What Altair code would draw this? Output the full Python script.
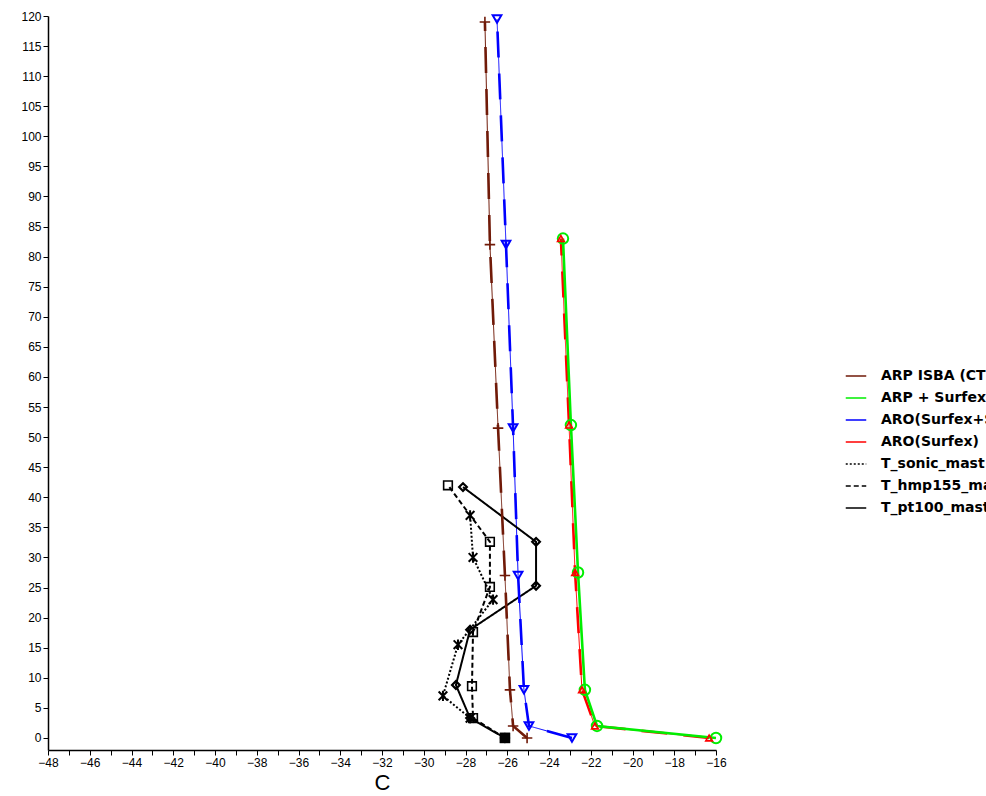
import altair as alt
import pandas as pd

# ---- data ----
series_names = ["ARP ISBA (CTRL)", "ARP + Surfex", "ARO(Surfex+SBL)", "ARO(Surfex)",
                "T_sonic_mast", "T_hmp155_mast", "T_pt100_mast"]
series_colors = ["#701a08", "#00ee00", "#0000ff", "#ff0000", "#000000", "#000000", "#000000"]
series_shapes = ["M-1,0L1,0M0,-1L0,1", "circle", "triangle-down", "triangle-up",
                 "M-1,-1L1,1M-1,1L1,-1M0,-1.2L0,1.2", "square", "diamond"]
series_msize = [110, 110, 75, 45, 75, 75, 60]
series_mwidth = [1.6, 2, 2, 1.6, 2, 1.6, 2.2]
series_lwidth = [1, 2.6, 1, 1, 2, 2, 2]
series_ldash = [[1, 0], [1, 0], [1, 0], [1, 0], [2, 2], [5, 3], [1, 0]]

h_arp_isba = [0, 2, 8, 27, 51.5, 82, 119]
t_arp_isba = [-25.05, -25.72, -25.87, -26.11, -26.44, -26.83, -27.07]

h_aro_sbl = [0, 2, 8, 27, 51.5, 82, 119.5]
t_aro_sbl = [-22.9, -24.96, -25.2, -25.48, -25.72, -26.06, -26.49]

h_surfex = [0, 2, 8, 27.5, 52, 83]
t_arp_surfex = [-16.0, -21.7, -22.28, -22.61, -22.95, -23.33]
t_aro_surfex = [-16.33, -21.8, -22.42, -22.75, -23.04, -23.43]

h_sonic = [3.3, 7, 15.5, 23, 30, 37]
t_sonic = [-27.78, -29.08, -28.36, -26.68, -27.64, -27.78]

h_hmp = [0, 3.3, 8.6, 17.6, 25.1, 32.6, 42]
t_hmp = [-26.11, -27.64, -27.69, -27.64, -26.83, -26.83, -28.84]

h_pt100 = [0, 3.3, 8.8, 18, 25.3, 32.6, 41.7]
t_pt100 = [-26.11, -27.78, -28.46, -27.78, -24.62, -24.62, -28.12]

x_ticks = list(range(-48, -15))
y_ticks = list(range(0, 121, 5))

# ---- long table ----
pairs = [
    (series_names[0], t_arp_isba, h_arp_isba),
    (series_names[1], t_arp_surfex, h_surfex),
    (series_names[2], t_aro_sbl, h_aro_sbl),
    (series_names[3], t_aro_surfex, h_surfex),
    (series_names[4], t_sonic, h_sonic),
    (series_names[5], t_hmp, h_hmp),
    (series_names[6], t_pt100, h_pt100),
]
rows = []
for name, ts, hs in pairs:
    for i, (t, h) in enumerate(zip(ts, hs)):
        rows.append({"series": name, "t": t, "h": h, "idx": i})
df = pd.DataFrame(rows)

color_scale = alt.Scale(domain=series_names, range=series_colors)
dash_scale = alt.Scale(domain=series_names, range=series_ldash)

x_enc = alt.X("t:Q", scale=alt.Scale(domain=[-48, -16], nice=False, zero=False),
              axis=alt.Axis(values=x_ticks, title="C",
                            labelExpr="datum.value % 2 == 0 ? datum.label : ''",
                            labelOverlap=False, labelFlush=False))
y_enc = alt.Y("h:Q", scale=alt.Scale(domain=[-2, 120], nice=False, zero=False),
              axis=alt.Axis(values=y_ticks, title=None, labelOverlap=False))

base = alt.Chart(df)
order = alt.Order("idx:Q")

legend = alt.Legend(
    title=None, orient="none", legendX=797, legendY=349,
    symbolType="stroke", symbolSize=420, symbolStrokeWidth=1.5,
    labelFontSize=14, labelFont="DejaVu Sans", labelFontWeight="bold", labelOffset=14,
    rowPadding=4, labelLimit=300,
)

# legend-carrying layer: thin base lines for the brown, blue and red series
lines = base.mark_line(strokeWidth=1).encode(
    x=x_enc, y=y_enc, order=order,
    color=alt.Color("series:N", scale=color_scale, sort=series_names, legend=legend),
    strokeDash=alt.StrokeDash("series:N", scale=dash_scale, sort=series_names, legend=legend),
).transform_filter(alt.FieldOneOfPredicate(field="series",
                                           oneOf=[series_names[0], series_names[2], series_names[3]]))

# observation lines with their own widths
obs_layers = []
for k in (4, 5, 6):
    obs_layers.append(
        base.mark_line(strokeWidth=series_lwidth[k], strokeDash=series_ldash[k],
                       color=series_colors[k]).encode(
            x=x_enc, y=y_enc, order=order,
        ).transform_filter(alt.datum.series == series_names[k])
    )

dash_layers = []
for k in (0, 2, 3):
    dash_layers.append(
        base.mark_line(strokeWidth=2.6, strokeDash=[26, 16], color=series_colors[k]).encode(
            x=x_enc, y=y_enc, order=order,
        ).transform_filter(alt.datum.series == series_names[k])
    )

green_line = base.mark_line(strokeWidth=series_lwidth[1], color=series_colors[1]).encode(
    x=x_enc, y=y_enc, order=order,
).transform_filter(alt.datum.series == series_names[1])

marker_layers = []
for k, name in enumerate(series_names):
    marker_layers.append(
        base.mark_point(filled=False, strokeWidth=series_mwidth[k], opacity=1,
                        shape=series_shapes[k], size=series_msize[k],
                        color=series_colors[k]).encode(
            x=x_enc, y=y_enc,
        ).transform_filter(alt.datum.series == name)
    )

filled_sq = base.mark_point(shape="square", filled=True, size=110, color="black", opacity=1).encode(
    x=x_enc, y=y_enc,
).transform_filter((alt.datum.series == series_names[5]) & (alt.datum.h == 0))

chart = alt.layer(lines, *obs_layers, *dash_layers, green_line, *marker_layers, filled_sq).properties(
    width=668, height=734,
    autosize=alt.AutoSizeParams(type="none"),
    padding={"left": 48, "top": 16, "right": 270, "bottom": 46},
).configure_view(stroke=None).configure_axis(
    grid=False, domainColor="black", domainWidth=1.5, tickColor="black", tickSize=5,
    labelColor="black", labelFont="Liberation Sans", labelFontSize=12,
    titleFont="Liberation Sans", titleFontSize=22, titleFontWeight="normal",
    titleColor="black", titlePadding=4,
).configure_legend(labelColor="black")

chart.save("out.html", embed_options={"renderer": "svg", "actions": False})
